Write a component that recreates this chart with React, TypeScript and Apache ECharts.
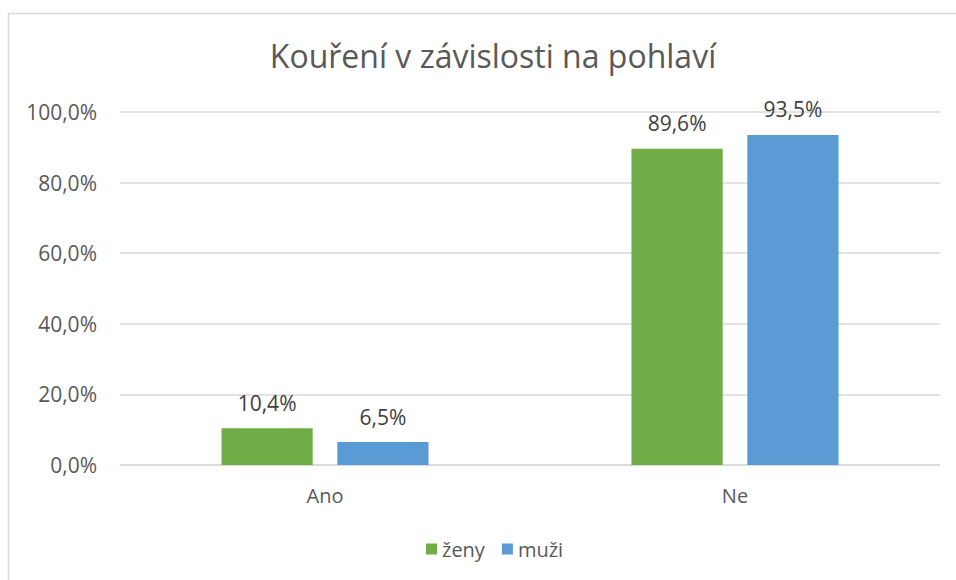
import React, { useEffect, useRef } from "react";
import * as echarts from "echarts";

const categories = ["Ano", "Ne"];
const zeny = [10.4, 89.6];
const muzi = [6.5, 93.5];
const seriesNames = ["ženy", "muži"];
const titleText = "Kouření v závislosti na pohlaví";

const FONT = "Open Sans";
const TXT = "#595959";
const VAL = "#404040";

const fmt = (v: number) => v.toFixed(1).replace(".", ",") + "%";

export default function App() {
  const ref = useRef<HTMLDivElement>(null);
  useEffect(() => {
    if (!ref.current) return;
    const chart = echarts.init(ref.current, undefined, { renderer: "svg" });
    const valLabel = {
      show: true,
      position: "top",
      distance: 15,
      fontFamily: FONT,
      fontSize: 21,
      color: VAL,
      formatter: (p: any) => fmt(p.value),
    };
    chart.setOption({
      animation: false,
      backgroundColor: "#ffffff",
      title: {
        text: titleText,
        left: 488,
        textAlign: "center",
        top: 34,
        textStyle: { fontFamily: FONT, fontSize: 32, fontWeight: "normal", color: TXT },
      },
      legend: {
        bottom: 16,
        left: 421,
        itemWidth: 11,
        itemHeight: 11,
        itemGap: 17,
        icon: "rect",
        textStyle: { fontFamily: FONT, fontSize: 20, color: TXT, padding: [0, 0, 0, 0] },
        data: seriesNames,
      },
      graphic: [
        {
          type: "rect",
          shape: { x: 8.5, y: 13.5, width: 1000, height: 1000 },
          style: { fill: "none", stroke: "#d9d9d9", lineWidth: 1.5 },
          silent: true,
        },
      ],
      grid: { left: 120, right: 16, top: 112, bottom: 115 },
      xAxis: {
        type: "category",
        data: categories,
        axisLine: { show: true, lineStyle: { color: "#d9d9d9", width: 1.5 } },
        axisTick: { show: false },
        axisLabel: { fontFamily: FONT, fontSize: 20, color: TXT, margin: 20 },
      },
      yAxis: {
        type: "value",
        min: 0,
        max: 100,
        interval: 20,
        axisLine: { show: false },
        axisTick: { show: false },
        splitLine: { lineStyle: { color: "#d9d9d9", width: 1.5 } },
        axisLabel: {
          fontFamily: FONT,
          fontSize: 21,
          color: TXT,
          margin: 23,
          formatter: (v: number) => fmt(v),
        },
      },
      series: [
        {
          name: seriesNames[0],
          type: "bar",
          data: zeny,
          barGap: "27%",
          barCategoryGap: "49.5%",
          itemStyle: { color: "#70AD47" },
          label: valLabel,
        },
        {
          name: seriesNames[1],
          type: "bar",
          data: muzi,
          itemStyle: { color: "#5B9BD5" },
          label: valLabel,
        },
      ],
    });
    return () => chart.dispose();
  }, []);
  return (
    <div
      ref={ref}
      style={{ position: "absolute", left: 0, top: 0, width: 956, height: 580 }}
    />
  );
}
